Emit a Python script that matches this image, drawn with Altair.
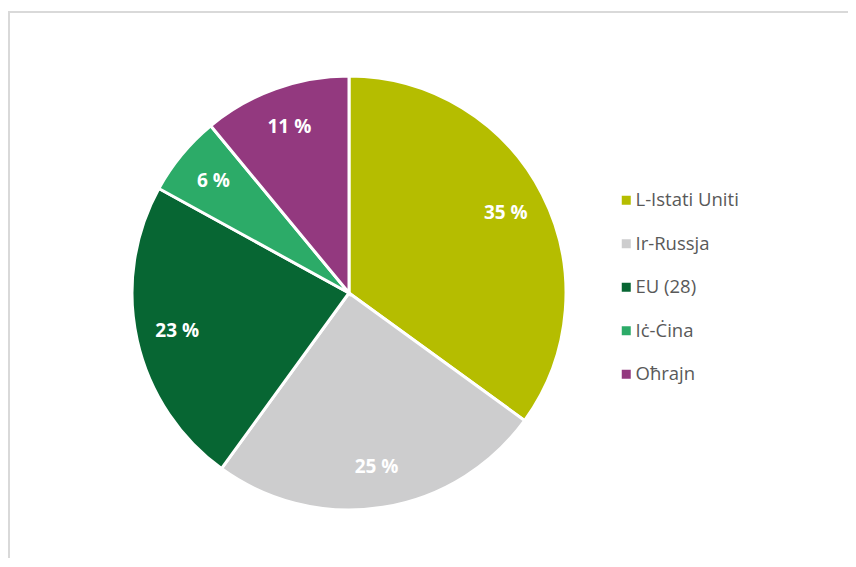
import altair as alt
import pandas as pd

categories = ["L-Istati Uniti", "Ir-Russja", "EU (28)", "Iċ-Ċina", "Oħrajn"]
values = [35, 25, 23, 6, 11]
colors = ["#B5BD00", "#CDCDCE", "#076633", "#2CAB68", "#93397F"]

df = pd.DataFrame({
    "cat": categories,
    "val": values,
    "order": list(range(len(categories))),
    "label": [f"{v} %" for v in values],
})

cx, cy = 341, 285

base = alt.Chart(df).encode(
    theta=alt.Theta("val:Q", stack=True),
    order=alt.Order("order:Q"),
)

pie = base.mark_arc(radius=217, stroke="white", strokeWidth=3).encode(
    x=alt.value(cx), y=alt.value(cy),
    color=alt.Color(
        "cat:N",
        scale=alt.Scale(domain=categories, range=colors),
        sort=categories,
        legend=alt.Legend(
            title=None, orient="none", legendX=609, legendY=183,
            symbolType="square", symbolSize=81, symbolStrokeWidth=0,
            labelFont="Open Sans", labelFontSize=18.5, labelColor="#595959",
            rowPadding=24.5, padding=0, labelOffset=0, labelLimit=300,
        ),
    ),
)

text = base.mark_text(radius=176, fontSize=19, fontWeight="bold", color="white",
                      font="Open Sans").encode(
    x=alt.value(cx), y=alt.value(cy),
    text="label:N",
)

border = alt.Chart(pd.DataFrame({"a": [0]})).mark_rect(
    fill="white", stroke="#D9D9D9", strokeWidth=2
).encode(x=alt.value(1), y=alt.value(4), x2=alt.value(900), y2=alt.value(700))

chart = alt.layer(border, pie, text).properties(
    width=840, height=550, padding=0,
    autosize=alt.AutoSizeParams(type="none"),
).configure_view(stroke=None)

chart.save("out.html", embed_options={"renderer": "svg", "actions": False})
